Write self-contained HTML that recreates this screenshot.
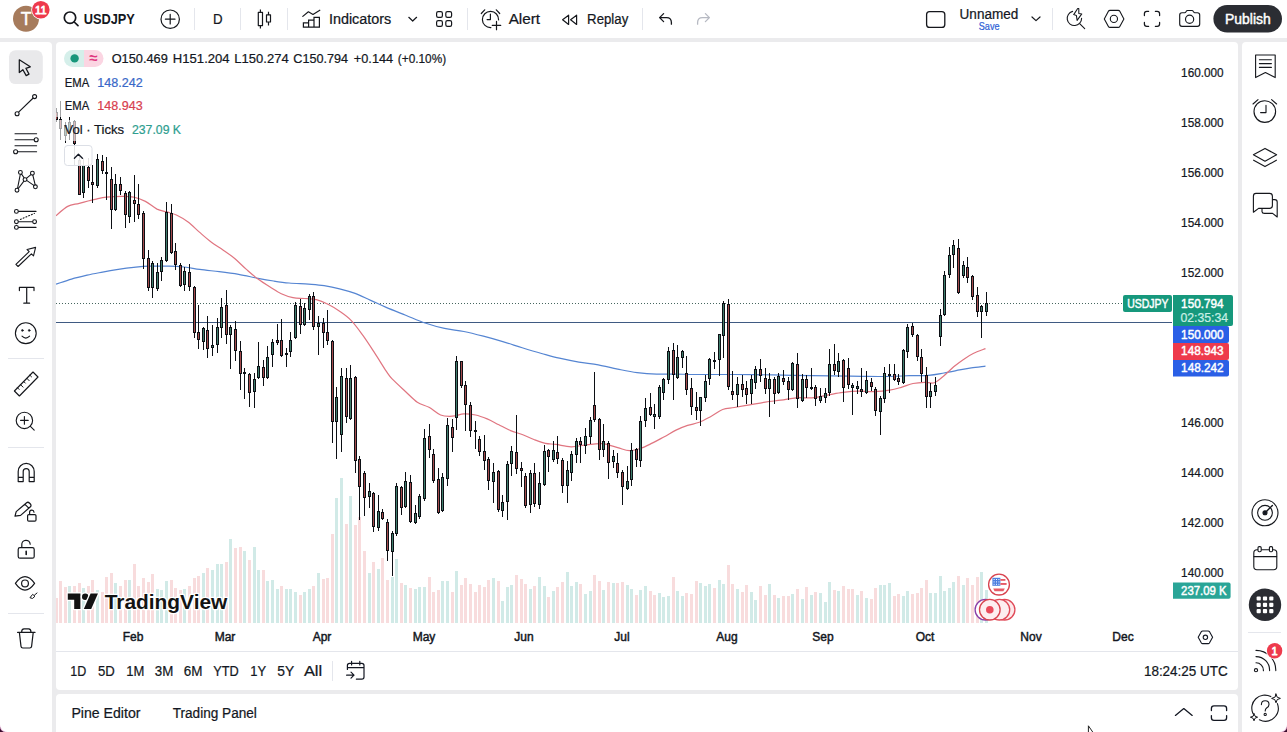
<!DOCTYPE html>
<html lang="en"><head><meta charset="utf-8"><title>USDJPY 150.794 — TradingView</title>
<style>
html,body{margin:0;padding:0}
body{width:1287px;height:732px;overflow:hidden;position:relative;background:#ebebed;font-family:"Liberation Sans",Arial,sans-serif;color:#131722}
.p{position:absolute;background:#fff}
#top{left:0;top:0;width:1287px;height:38px}
#left{left:0;top:42px;width:52px;height:690px;border-top-right-radius:4px}
#chart{left:56px;top:42px;width:1182px;height:648px;border-radius:4px}
#bottom{left:56px;top:694px;width:1182px;height:38px;border-radius:4px 4px 0 0}
#right{left:1242px;top:42px;width:45px;height:690px;border-top-left-radius:4px}
svg{position:absolute;left:0;top:0;font-family:"Liberation Sans",Arial,sans-serif}
text{white-space:pre}
</style></head><body>
<div class="p" id="top"></div>
<div class="p" id="left"></div>
<div class="p" id="chart"></div>
<div class="p" id="bottom"></div>
<div class="p" id="right"></div>
<svg width="1287" height="732" viewBox="0 0 1287 732">
<defs><clipPath id="cp"><rect x="56" y="42" width="1116" height="581"/></clipPath></defs>
<g id="plot" clip-path="url(#cp)">
<path shape-rendering="crispEdges" d="M54.5 622.5V597.7h3V622.5zM59.1 622.5V581.3h3V622.5zM63.7 622.5V586.8h3V622.5zM72.92 622.5V585.6h3V622.5zM77.52 622.5V583.2h3V622.5zM86.73 622.5V586h3V622.5zM91.34 622.5V579.6h3V622.5zM100.55 622.5V591.6h3V622.5zM105.15 622.5V577.2h3V622.5zM109.75 622.5V573.1h3V622.5zM118.97 622.5V585.6h3V622.5zM123.57 622.5V580.3h3V622.5zM132.78 622.5V564.4h3V622.5zM137.39 622.5V585.6h3V622.5zM141.99 622.5V578.4h3V622.5zM146.59 622.5V582h3V622.5zM151.2 622.5V574h3V622.5zM169.62 622.5V579.6h3V622.5zM174.23 622.5V587.5h3V622.5zM178.83 622.5V590h3V622.5zM188.04 622.5V586h3V622.5zM192.65 622.5V578.4h3V622.5zM197.25 622.5V576h3V622.5zM206.46 622.5V568.3h3V622.5zM224.88 622.5V561.5h3V622.5zM234.09 622.5V548.3h3V622.5zM238.7 622.5V547h3V622.5zM247.91 622.5V560.3h3V622.5zM261.72 622.5V570h3V622.5zM280.14 622.5V586h3V622.5zM298.56 622.5V595.3h3V622.5zM312.38 622.5V586h3V622.5zM321.59 622.5V578.9h3V622.5zM326.19 622.5V578h3V622.5zM330.8 622.5V533.8h3V622.5zM344.61 622.5V524.2h3V622.5zM353.82 622.5V525h3V622.5zM358.43 622.5V517h3V622.5zM363.03 622.5V551h3V622.5zM372.24 622.5V562.2h3V622.5zM381.45 622.5V558.4h3V622.5zM386.06 622.5V580h3V622.5zM399.87 622.5V583.3h3V622.5zM409.08 622.5V588.3h3V622.5zM427.5 622.5V577h3V622.5zM432.11 622.5V591.5h3V622.5zM436.71 622.5V590h3V622.5zM450.53 622.5V592h3V622.5zM459.74 622.5V585h3V622.5zM464.34 622.5V578.3h3V622.5zM468.95 622.5V584h3V622.5zM473.55 622.5V591.5h3V622.5zM478.16 622.5V585h3V622.5zM482.76 622.5V587h3V622.5zM487.37 622.5V580h3V622.5zM496.58 622.5V580.8h3V622.5zM515.0 622.5V575h3V622.5zM519.6 622.5V579h3V622.5zM524.21 622.5V584h3V622.5zM533.42 622.5V585.8h3V622.5zM547.23 622.5V597h3V622.5zM556.44 622.5V587h3V622.5zM561.05 622.5V582h3V622.5zM579.47 622.5V584h3V622.5zM593.28 622.5V575h3V622.5zM597.89 622.5V580.8h3V622.5zM607.1 622.5V582h3V622.5zM616.31 622.5V583.3h3V622.5zM620.91 622.5V581.6h3V622.5zM634.73 622.5V595h3V622.5zM648.54 622.5V590.8h3V622.5zM653.15 622.5V595h3V622.5zM671.57 622.5V576.7h3V622.5zM685.38 622.5V592.6h3V622.5zM689.99 622.5V593.7h3V622.5zM694.59 622.5V580.6h3V622.5zM713.01 622.5V587.6h3V622.5zM726.83 622.5V564.6h3V622.5zM731.43 622.5V583.9h3V622.5zM740.64 622.5V591.7h3V622.5zM745.25 622.5V584.8h3V622.5zM759.06 622.5V585.6h3V622.5zM763.67 622.5V594.5h3V622.5zM772.88 622.5V595.1h3V622.5zM782.09 622.5V596h3V622.5zM786.69 622.5V596h3V622.5zM795.9 622.5V589h3V622.5zM805.11 622.5V586.7h3V622.5zM814.32 622.5V591.7h3V622.5zM832.74 622.5V589.8h3V622.5zM841.95 622.5V585.6h3V622.5zM846.56 622.5V589h3V622.5zM851.16 622.5V589h3V622.5zM860.37 622.5V591.2h3V622.5zM869.58 622.5V598.7h3V622.5zM874.19 622.5V587.6h3V622.5zM892.61 622.5V596h3V622.5zM897.21 622.5V593.7h3V622.5zM911.03 622.5V594h3V622.5zM915.63 622.5V592.6h3V622.5zM920.24 622.5V587.6h3V622.5zM924.84 622.5V579.7h3V622.5zM957.08 622.5V576.4h3V622.5zM966.29 622.5V577.8h3V622.5zM970.89 622.5V584.8h3V622.5zM975.5 622.5V576.9h3V622.5z" fill="#f8dcdd"/>
<path shape-rendering="crispEdges" d="M68.31 622.5V585.6h3V622.5zM82.12 622.5V588h3V622.5zM95.94 622.5V590h3V622.5zM114.36 622.5V583.2h3V622.5zM128.18 622.5V580.3h3V622.5zM155.81 622.5V589.2h3V622.5zM160.41 622.5V590h3V622.5zM165.02 622.5V581.3h3V622.5zM183.44 622.5V589h3V622.5zM201.86 622.5V573h3V622.5zM211.06 622.5V570h3V622.5zM215.67 622.5V564.4h3V622.5zM220.28 622.5V564.4h3V622.5zM229.49 622.5V538.6h3V622.5zM243.3 622.5V551.4h3V622.5zM252.51 622.5V547h3V622.5zM257.12 622.5V570h3V622.5zM266.33 622.5V581.3h3V622.5zM270.93 622.5V580.3h3V622.5zM275.54 622.5V588.5h3V622.5zM284.75 622.5V589h3V622.5zM289.35 622.5V589h3V622.5zM293.96 622.5V592.4h3V622.5zM303.17 622.5V592.4h3V622.5zM307.77 622.5V589h3V622.5zM316.98 622.5V573h3V622.5zM335.4 622.5V497.7h3V622.5zM340.01 622.5V477.7h3V622.5zM349.22 622.5V496h3V622.5zM367.64 622.5V573.3h3V622.5zM376.85 622.5V569.1h3V622.5zM390.66 622.5V576.6h3V622.5zM395.27 622.5V559.2h3V622.5zM404.48 622.5V585h3V622.5zM413.69 622.5V589h3V622.5zM418.29 622.5V587h3V622.5zM422.9 622.5V587h3V622.5zM441.32 622.5V580.8h3V622.5zM445.92 622.5V580.8h3V622.5zM455.13 622.5V571.4h3V622.5zM491.97 622.5V578.3h3V622.5zM501.18 622.5V600.7h3V622.5zM505.79 622.5V587h3V622.5zM510.39 622.5V585h3V622.5zM528.81 622.5V589h3V622.5zM538.02 622.5V577h3V622.5zM542.62 622.5V586.3h3V622.5zM551.84 622.5V590.8h3V622.5zM565.65 622.5V572h3V622.5zM570.25 622.5V585.8h3V622.5zM574.86 622.5V582h3V622.5zM584.07 622.5V594h3V622.5zM588.68 622.5V590.8h3V622.5zM602.49 622.5V590h3V622.5zM611.7 622.5V583.3h3V622.5zM625.52 622.5V585h3V622.5zM630.12 622.5V589h3V622.5zM639.33 622.5V590h3V622.5zM643.94 622.5V585.8h3V622.5zM657.75 622.5V593.2h3V622.5zM662.36 622.5V597h3V622.5zM666.96 622.5V595.7h3V622.5zM676.17 622.5V590.9h3V622.5zM680.78 622.5V596h3V622.5zM699.2 622.5V582.5h3V622.5zM703.8 622.5V586.2h3V622.5zM708.41 622.5V583.9h3V622.5zM717.62 622.5V579.7h3V622.5zM722.22 622.5V583.9h3V622.5zM736.04 622.5V589h3V622.5zM749.85 622.5V591.7h3V622.5zM754.46 622.5V599.6h3V622.5zM768.27 622.5V583.9h3V622.5zM777.48 622.5V597.9h3V622.5zM791.3 622.5V594h3V622.5zM800.51 622.5V598.7h3V622.5zM809.72 622.5V594.5h3V622.5zM818.93 622.5V593.1h3V622.5zM823.53 622.5V602.1h3V622.5zM828.14 622.5V582h3V622.5zM837.35 622.5V591.2h3V622.5zM855.77 622.5V594.5h3V622.5zM864.98 622.5V597.9h3V622.5zM878.79 622.5V584.8h3V622.5zM883.4 622.5V584.8h3V622.5zM888.0 622.5V582.8h3V622.5zM901.82 622.5V596h3V622.5zM906.42 622.5V590.9h3V622.5zM929.45 622.5V592.6h3V622.5zM934.05 622.5V592.6h3V622.5zM938.66 622.5V575.8h3V622.5zM943.26 622.5V590.9h3V622.5zM947.87 622.5V587.6h3V622.5zM952.47 622.5V582h3V622.5zM961.68 622.5V584.8h3V622.5zM980.1 622.5V571.6h3V622.5zM984.71 622.5V590.3h3V622.5z" fill="#d1eae7"/>
<path shape-rendering="crispEdges" d="M56 322.5H1172" stroke="#3f5a82" stroke-width="1"/>
<path shape-rendering="crispEdges" d="M56 303.5H1123" stroke="#46665f" stroke-width="1" stroke-dasharray="1 2"/>
<path d="M56 284.1C58.6 283.3 66.3 280.6 71.5 279.1C76.7 277.6 81.9 276.4 87.1 275.2C92.3 274.0 97.4 273.1 102.6 272.1C107.8 271.1 113.0 270.2 118.2 269.4C123.4 268.6 128.5 267.9 133.7 267.4C138.9 266.9 143.4 266.4 149.2 266.2C155.0 266.0 162.9 266.1 168.7 266.2C174.5 266.3 179.0 266.5 184.2 267C189.4 267.5 193.9 268.6 199.7 269.4C205.5 270.2 212.7 270.9 219.2 271.7C225.7 272.5 232.1 273.3 238.6 274.4C245.1 275.5 252.2 277.2 258 278.3C263.8 279.4 268.4 280.2 273.6 281C278.8 281.8 283.3 282.5 289.1 283C294.9 283.5 302.7 283.7 308.5 284.1C314.3 284.6 318.9 284.9 324.1 285.7C329.3 286.5 334.4 287.5 339.6 288.8C344.8 290.1 349.9 291.5 355.1 293.4C360.3 295.3 365.5 298.1 370.7 300.4C375.9 302.7 380.4 304.9 386.2 307.4C392.0 309.9 399.2 312.6 405.7 315.2C412.2 317.8 418.6 320.8 425.1 323C431.6 325.2 438.0 327.0 444.5 328.4C451.0 329.8 457.4 330.2 463.9 331.5C470.4 332.8 476.9 334.5 483.4 336.2C489.9 337.9 496.3 339.7 502.8 341.6C509.3 343.5 515.7 345.8 522.2 347.8C528.7 349.8 535.4 351.8 541.6 353.5C547.8 355.2 553.2 356.8 559.4 358.2C565.6 359.6 572.4 361.0 578.9 362.1C585.4 363.2 591.8 363.6 598.3 364.8C604.8 366.0 611.2 367.8 617.7 369.1C624.2 370.4 630.6 371.8 637.1 372.6C643.6 373.4 650.1 373.9 656.6 374.1C663.1 374.4 669.5 374.0 676 374.1C682.5 374.2 685.7 374.4 695.4 374.5C705.1 374.6 721.3 374.4 734.3 374.5C747.2 374.6 760.2 374.7 773.1 374.9C786.0 375.1 799.0 375.5 811.9 375.7C824.8 375.9 837.8 376.0 850.8 376.1C863.8 376.2 880.0 376.6 889.7 376.5C899.4 376.4 902.6 375.9 909.1 375.7C915.6 375.5 922.7 375.8 928.5 375.3C934.3 374.9 938.8 373.9 944 373C949.2 372.1 955.1 370.8 959.6 369.9C964.1 369.0 967.0 368.5 971.3 367.9C975.6 367.3 983.1 366.5 985.5 366.2" fill="none" stroke="#5585d2" stroke-width="1.2" stroke-linejoin="round"/>
<path d="M56 215.7C58.0 214.1 63.8 208.5 67.7 206.4C71.6 204.3 74.8 204.5 79.3 203.3C83.8 202.1 90.4 200.4 94.9 199.4C99.4 198.4 102.0 197.6 106.5 197.1C111.0 196.6 117.5 196.3 122 196.3C126.5 196.3 129.8 196.2 133.7 197.1C137.6 197.9 141.5 199.4 145.4 201.4C149.3 203.4 153.4 207.3 157 209.1C160.6 210.8 163.5 210.9 166.7 211.9C169.9 212.9 172.8 213.3 176.4 215C180.0 216.7 184.2 219.1 188.1 222C192.0 224.9 195.8 229.0 199.7 232.4C203.6 235.8 207.5 239.3 211.4 242.2C215.3 245.1 219.1 247.2 223 249.9C226.9 252.6 230.8 255.2 234.7 258.5C238.6 261.8 242.5 266.0 246.4 269.4C250.3 272.8 254.1 276.2 258 279.1C261.9 282.0 265.8 284.4 269.7 286.8C273.6 289.2 277.4 292.0 281.3 293.8C285.2 295.6 289.1 296.9 293 297.7C296.9 298.5 300.7 298.2 304.6 298.5C308.5 298.8 312.4 298.7 316.3 299.7C320.2 300.7 324.1 302.4 328 304.3C331.9 306.2 335.7 308.6 339.6 311.3C343.5 314.0 347.4 316.6 351.3 320.6C355.2 324.6 359.0 330.0 362.9 335.4C366.8 340.8 370.7 346.9 374.6 352.9C378.5 358.8 383.3 366.8 386.2 371.1C389.1 375.4 388.9 375.5 392.1 378.9C395.4 382.3 401.5 387.8 405.7 391.7C409.9 395.6 413.4 399.6 417.3 402.2C421.2 404.8 425.1 405.2 429 407.3C432.9 409.4 436.7 413.5 440.6 415C444.5 416.5 448.4 416.4 452.3 416.2C456.2 416.0 460.0 414.1 463.9 413.9C467.8 413.7 471.7 414.2 475.6 415C479.5 415.8 483.3 417.3 487.2 418.9C491.1 420.5 495.0 422.9 498.9 424.8C502.8 426.8 506.7 429.0 510.6 430.6C514.5 432.2 518.3 433.0 522.2 434.5C526.1 436.0 530.0 438.0 533.9 439.5C537.8 441.0 541.8 442.6 545.5 443.4C549.2 444.2 551.7 443.8 556 444.4C560.3 445.0 566.0 446.7 571.1 446.8C576.2 446.9 581.4 445.3 586.6 444.8C591.8 444.3 597.0 443.2 602.2 443.7C607.4 444.2 613.2 446.4 617.7 447.6C622.2 448.8 625.5 450.6 629.4 450.7C633.3 450.8 637.1 449.6 641 448.3C644.9 447.0 648.8 444.8 652.7 442.9C656.6 441.0 660.4 438.8 664.3 436.7C668.2 434.6 672.1 432.0 676 430.1C679.9 428.2 683.7 426.7 687.6 425.4C691.5 424.1 695.4 423.8 699.3 422.3C703.2 420.8 707.0 418.6 710.9 416.5C714.8 414.4 718.7 411.0 722.6 409.5C726.5 408.0 729.8 408.3 734.3 407.5C738.8 406.7 744.6 405.7 749.8 404.8C755.0 403.9 760.1 402.9 765.3 402.1C770.5 401.3 775.7 400.9 780.9 400.2C786.1 399.5 791.2 398.2 796.4 397.8C801.6 397.4 806.7 398.2 811.9 397.8C817.1 397.4 822.3 396.0 827.5 395.1C832.7 394.2 837.8 393.0 843 392.4C848.2 391.8 853.4 391.3 858.6 391.2C863.8 391.1 868.9 391.8 874.1 391.6C879.3 391.4 885.2 390.8 889.7 390.1C894.2 389.4 897.4 388.4 901.3 387.3C905.2 386.2 909.1 384.3 913 383.5C916.9 382.7 921.1 382.4 924.6 382.3C928.1 382.2 931.1 383.8 934.3 382.7C937.5 381.6 940.8 378.3 944 375.7C947.2 373.1 950.5 369.5 953.7 366.8C957.0 364.1 960.2 361.6 963.5 359.4C966.8 357.2 969.5 355.3 973.2 353.5C976.9 351.7 983.5 349.4 985.5 348.6" fill="none" stroke="#e07580" stroke-width="1.2" stroke-linejoin="round"/>
<path shape-rendering="crispEdges" d="M55.5 108h1V122h-1zM60.1 100.5h1V140h-1zM64.7 122h1V143h-1zM69.31 117h1V140h-1zM73.92 119.6h1V166h-1zM78.52 153.7h1V194.7h-1zM83.12 157.8h1V197.5h-1zM87.73 158.4h1V187.9h-1zM92.34 164.7h1V203h-1zM96.94 153.7h1V187.9h-1zM101.55 154.6h1V174.2h-1zM106.15 157.3h1V200.2h-1zM110.75 166.6h1V228.9h-1zM115.36 173.7h1V211.1h-1zM119.97 177h1V194.7h-1zM124.57 191.2h1V227.5h-1zM129.18 191.2h1V223.4h-1zM133.78 174.8h1V222h-1zM138.39 183.8h1V218.5h-1zM142.99 211.1h1V268.5h-1zM147.59 250h1V291h-1zM152.2 260.7h1V298.4h-1zM156.81 262.9h1V290.6h-1zM161.41 256.6h1V281.1h-1zM166.02 202h1V261.7h-1zM170.62 204h1V254.4h-1zM175.23 243.4h1V270h-1zM179.83 262.9h1V287.4h-1zM184.44 267h1V291.2h-1zM189.04 263.9h1V290.6h-1zM193.65 285.9h1V337.7h-1zM198.25 304.7h1V348.7h-1zM202.86 326.7h1V350.3h-1zM207.46 315.7h1V358.1h-1zM212.06 325.1h1V355.9h-1zM216.67 318.2h1V353.4h-1zM221.28 297.5h1V337.7h-1zM225.88 289.9h1V344h-1zM230.49 324.5h1V369.1h-1zM235.09 321.4h1V361.3h-1zM239.7 340.8h1V389.6h-1zM244.3 367.6h1V399h-1zM248.91 372.9h1V406.8h-1zM253.51 373h1V408.2h-1zM258.12 342.2h1V379.3h-1zM262.72 360.4h1V386.2h-1zM267.33 346.3h1V378.7h-1zM271.93 339h1V366.7h-1zM276.54 324.3h1V344.7h-1zM281.14 318.9h1V356.7h-1zM285.75 347.9h1V367.3h-1zM290.35 331.5h1V357.3h-1zM294.96 302.3h1V339.1h-1zM299.56 299.1h1V333.7h-1zM304.17 303.2h1V325.9h-1zM308.77 293.8h1V320.2h-1zM313.38 291.9h1V329.6h-1zM317.98 316.4h1V354.8h-1zM322.59 318h1V347.9h-1zM327.19 310.1h1V345.3h-1zM331.8 340h1V442.8h-1zM336.4 387.1h1V458.5h-1zM341.01 368.3h1V451.6h-1zM345.61 368.3h1V423.3h-1zM350.22 365.1h1V420.1h-1zM354.82 375.7h1V472.9h-1zM359.43 455.9h1V520.3h-1zM364.03 470.6h1V515.6h-1zM368.64 483.2h1V507.7h-1zM373.24 492h1V532.2h-1zM377.85 495.1h1V531.3h-1zM382.45 509.3h1V519.6h-1zM387.06 518.7h1V561.1h-1zM391.66 531.3h1V576.2h-1zM396.27 483.2h1V536h-1zM400.87 486.3h1V514.6h-1zM405.48 471.6h1V508.3h-1zM410.08 474.7h1V522.8h-1zM414.69 504.6h1V524h-1zM419.29 493.6h1V518.7h-1zM423.9 429.1h1V500.8h-1zM428.5 424.4h1V458.1h-1zM433.11 448.6h1V482.6h-1zM437.71 467.5h1V514h-1zM442.32 473.1h1V511.5h-1zM446.92 418.1h1V485.7h-1zM451.53 418.5h1V451.7h-1zM456.13 356.1h1V429.6h-1zM460.74 360.8h1V388h-1zM465.34 381h1V430.8h-1zM469.95 402.3h1V436.5h-1zM474.55 420.5h1V449h-1zM479.16 436h1V456.3h-1zM483.76 434.7h1V469.8h-1zM488.37 456.8h1V490h-1zM492.97 463.3h1V503h-1zM497.58 469.8h1V511.8h-1zM502.18 495.2h1V517h-1zM506.79 460.7h1V519.6h-1zM511.39 445.9h1V475.5h-1zM516.0 415.3h1V473.7h-1zM520.6 461.5h1V486.6h-1zM525.21 472.9h1V508.2h-1zM529.81 469.8h1V512.6h-1zM534.42 463.3h1V507.4h-1zM539.02 471.8h1V508.7h-1zM543.62 445.1h1V485.9h-1zM548.23 448.5h1V472.4h-1zM552.84 440.6h1V462.4h-1zM557.44 435.8h1V463.6h-1zM562.05 458h1V493h-1zM566.65 461h1V503.2h-1zM571.25 451.4h1V480.7h-1zM575.86 438.3h1V462.8h-1zM580.47 436.5h1V463.2h-1zM585.07 428.2h1V454h-1zM589.68 416.9h1V444.2h-1zM594.28 372h1V421.7h-1zM598.89 417.9h1V459.5h-1zM603.49 423.9h1V457.3h-1zM608.1 440.9h1V478.5h-1zM612.7 449.7h1V467.6h-1zM617.31 452.9h1V477.6h-1zM621.91 470.4h1V505.4h-1zM626.52 466.1h1V490.1h-1zM631.12 442.7h1V485.7h-1zM635.73 447.9h1V467.1h-1zM640.33 416.4h1V466.7h-1zM644.94 398.3h1V426.7h-1zM649.54 392.8h1V415.8h-1zM654.15 403.5h1V428.5h-1zM658.75 384.5h1V418.5h-1zM663.36 377.9h1V400.4h-1zM667.96 347.3h1V384h-1zM672.57 342.9h1V399.8h-1zM677.17 345.1h1V378.6h-1zM681.78 350.1h1V367.6h-1zM686.38 356h1V395h-1zM690.99 377.5h1V414.6h-1zM695.59 391.7h1V420.1h-1zM700.2 396.7h1V425.6h-1zM704.8 374.8h1V401.5h-1zM709.41 358.2h1V385.1h-1zM714.01 352.3h1V369.2h-1zM718.62 333.7h1V375.7h-1zM723.22 300.5h1V357.8h-1zM727.83 298.7h1V390.2h-1zM732.43 370.5h1V400.4h-1zM737.04 377h1V407h-1zM741.64 375.3h1V397.1h-1zM746.25 381.4h1V404.1h-1zM750.85 374.8h1V404.3h-1zM755.46 366h1V388.5h-1zM760.06 358.9h1V382.3h-1zM764.67 368.2h1V394.3h-1zM769.27 373.3h1V416.5h-1zM773.88 377.2h1V403.7h-1zM778.48 372.9h1V394.3h-1zM783.09 369.9h1V385.2h-1zM787.69 377.2h1V400.3h-1zM792.3 361.8h1V390.9h-1zM796.9 353.3h1V408h-1zM801.51 374.3h1V401.6h-1zM806.11 374.7h1V397.7h-1zM810.72 368.2h1V389.7h-1zM815.32 385.2h1V405.7h-1zM819.93 387.5h1V402.8h-1zM824.53 388.3h1V402.8h-1zM829.14 349h1V395.5h-1zM833.74 343.9h1V375h-1zM838.35 352.8h1V377.2h-1zM842.95 358.9h1V401.6h-1zM847.56 357.9h1V388.7h-1zM852.16 382.8h1V414.9h-1zM856.77 381.2h1V394.4h-1zM861.37 368h1V397.3h-1zM865.98 370.9h1V394.4h-1zM870.58 378.2h1V390.8h-1zM875.19 387h1V415.5h-1zM879.79 395.8h1V434.9h-1zM884.4 366.5h1V402.6h-1zM889.0 364.4h1V392.9h-1zM893.61 363.5h1V381.2h-1zM898.21 373.8h1V385h-1zM902.82 348.9h1V384.1h-1zM907.42 323.9h1V357.7h-1zM912.03 322.5h1V337.1h-1zM916.63 334.2h1V360.6h-1zM921.24 348.9h1V382h-1zM925.84 366.5h1V407.6h-1zM930.45 382.6h1V407.6h-1zM935.05 376.8h1V395.8h-1zM939.66 309.2h1V345.9h-1zM944.26 271.1h1V315.7h-1zM948.87 247h1V278.4h-1zM953.47 240.3h1V268.2h-1zM958.08 239.4h1V294h-1zM962.68 260.8h1V278.4h-1zM967.29 257h1V282.8h-1zM971.89 274.6h1V299.9h-1zM976.5 287.2h1V316.6h-1zM981.1 304.8h1V337.7h-1zM985.71 291.6h1V315.7h-1z" fill="#0c0f14"/>
<path shape-rendering="crispEdges" d="M54.5 112h3V120h-3zM59.1 119h3V129h-3zM63.7 125h3V136h-3zM68.31 122h3V133h-3zM72.92 121h3V144h-3zM77.52 160h3V194.7h-3zM82.12 164.7h3V193.4h-3zM86.73 166.6h3V181h-3zM91.34 181.9h3V184.6h-3zM95.94 159.2h3V185.7h-3zM100.55 160.6h3V171h-3zM105.15 171.5h3V173.5h-3zM109.75 179.2h3V209.8h-3zM114.36 183.8h3V210.3h-3zM118.97 183.8h3V191.2h-3zM123.57 192.8h3V215.2h-3zM128.18 192h3V217.4h-3zM132.78 200.2h3V203.7h-3zM137.39 203.7h3V214.7h-3zM141.99 212.5h3V259h-3zM146.59 258h3V288h-3zM151.2 262.9h3V288h-3zM155.81 272.3h3V289h-3zM160.41 259.8h3V272.3h-3zM165.02 212h3V260.7h-3zM169.62 212.6h3V252.9h-3zM174.23 251.3h3V265.4h-3zM178.83 265.4h3V285.9h-3zM183.44 271h3V285h-3zM188.04 272.3h3V286.8h-3zM192.65 287.4h3V333h-3zM197.25 332h3V340.2h-3zM201.86 328.3h3V341.5h-3zM206.46 329.8h3V348.7h-3zM211.06 344.6h3V347.8h-3zM215.67 326.7h3V344.6h-3zM220.28 306.9h3V328.3h-3zM224.88 304.7h3V335.2h-3zM229.49 326.7h3V334.6h-3zM234.09 328.9h3V350.9h-3zM238.7 350.9h3V373.8h-3zM243.3 371.6h3V373.6h-3zM247.91 373.8h3V392.7h-3zM252.51 378.7h3V391.9h-3zM257.12 366.1h3V377.7h-3zM261.72 367.3h3V377.7h-3zM266.33 357.3h3V377.7h-3zM270.93 341.6h3V354.8h-3zM275.54 340h3V343.1h-3zM280.14 340h3V355.7h-3zM284.75 352.6h3V354.8h-3zM289.35 340h3V351.6h-3zM293.96 305.4h3V338.4h-3zM298.56 306.4h3V325.2h-3zM303.17 307.6h3V325.2h-3zM307.77 296h3V309.5h-3zM312.38 296h3V326.5h-3zM316.98 322.7h3V327.4h-3zM321.59 323.3h3V332.8h-3zM326.19 332.1h3V340.9h-3zM330.8 340.9h3V421.7h-3zM335.4 396.6h3V421.7h-3zM340.01 375.5h3V435.2h-3zM344.61 377.7h3V417h-3zM349.22 377.7h3V418.6h-3zM353.82 377h3V461.4h-3zM358.43 459h3V487.3h-3zM363.03 473.1h3V497.6h-3zM367.64 491.4h3V496.7h-3zM372.24 492.6h3V526.6h-3zM376.85 510.8h3V528.1h-3zM381.45 512.4h3V518.7h-3zM386.06 521.8h3V551.1h-3zM390.66 532.8h3V552.3h-3zM395.27 486.3h3V534.4h-3zM399.87 487.3h3V507.7h-3zM404.48 481h3V507.1h-3zM409.08 481.9h3V521.8h-3zM413.69 513.4h3V522.8h-3zM418.29 495.8h3V516.5h-3zM422.9 437.9h3V498.9h-3zM427.5 436.1h3V449.6h-3zM432.11 453.7h3V481h-3zM436.71 478.8h3V513.4h-3zM441.32 476.9h3V510.8h-3zM445.92 425.4h3V479.4h-3zM450.53 426.8h3V438.3h-3zM455.13 360.8h3V418h-3zM459.74 361.3h3V386.2h-3zM464.34 385.4h3V404.9h-3zM468.95 404.9h3V430.8h-3zM473.55 430.3h3V432.3h-3zM478.16 438.6h3V451.6h-3zM482.76 451.1h3V460.7h-3zM487.37 458.9h3V481.4h-3zM491.97 471.8h3V482.2h-3zM496.58 471.1h3V510h-3zM501.18 502.2h3V510.8h-3zM505.79 464.1h3V502.2h-3zM510.39 451.1h3V464.1h-3zM515.0 452.1h3V468.5h-3zM519.6 467.7h3V471.1h-3zM524.21 475.5h3V505.6h-3zM528.81 472.9h3V504.8h-3zM533.42 472.9h3V504h-3zM538.02 482.7h3V504.8h-3zM542.62 451.1h3V484.8h-3zM547.23 450.3h3V456.8h-3zM551.84 450.2h3V459.5h-3zM556.44 451.5h3V458.8h-3zM561.05 459.5h3V485.7h-3zM565.65 470.4h3V485.7h-3zM570.25 453.6h3V472.6h-3zM574.86 440.5h3V454.5h-3zM579.47 440.5h3V444.8h-3zM584.07 436.1h3V445.7h-3zM588.68 420.1h3V436.5h-3zM593.28 404.8h3V419.5h-3zM597.89 418.6h3V450.1h-3zM602.49 441.3h3V449.7h-3zM607.1 443.1h3V463.2h-3zM611.7 455.8h3V462.3h-3zM616.31 463.2h3V472.6h-3zM620.91 472h3V487.3h-3zM625.52 480.7h3V488.6h-3zM630.12 450.1h3V480.3h-3zM634.73 449.2h3V460.2h-3zM639.33 421.2h3V461h-3zM643.94 408.1h3V421.2h-3zM648.54 407h3V415.1h-3zM653.15 414.2h3V416.6h-3zM657.75 387.3h3V417h-3zM662.36 379.2h3V392.8h-3zM666.96 350.8h3V380.1h-3zM671.57 350.1h3V375.3h-3zM676.17 357.4h3V377.5h-3zM680.78 351.2h3V358.2h-3zM685.38 373.1h3V389.5h-3zM689.99 388.4h3V407h-3zM694.59 407h3V410.7h-3zM699.2 397.1h3V411.4h-3zM703.8 381.4h3V398.2h-3zM708.41 358.9h3V378.6h-3zM713.01 359.5h3V361.5h-3zM717.62 334.2h3V360.4h-3zM722.22 303.1h3V335.5h-3zM726.83 304.2h3V387.3h-3zM731.43 391h3V395.4h-3zM736.04 384h3V395h-3zM740.64 383.6h3V389.5h-3zM745.25 388.4h3V394.5h-3zM749.85 379h3V394.4h-3zM754.46 369.2h3V383.2h-3zM759.06 369.2h3V376.4h-3zM763.67 378.1h3V388.7h-3zM768.27 378.9h3V388.7h-3zM772.88 378.9h3V394.3h-3zM777.48 376h3V392.6h-3zM782.09 378.1h3V381.8h-3zM786.69 381.1h3V390.4h-3zM791.3 363h3V389.7h-3zM795.9 364.1h3V399.4h-3zM800.51 378.9h3V400.6h-3zM805.11 379.4h3V387.5h-3zM809.72 387h3V389h-3zM814.32 387h3V399.4h-3zM818.93 396h3V400.6h-3zM823.53 393.1h3V397.7h-3zM828.14 364.1h3V392.6h-3zM832.74 364.1h3V370.9h-3zM837.35 361h3V371.6h-3zM841.95 360.1h3V387.5h-3zM846.56 368.2h3V384.6h-3zM851.16 384.8h3V387.6h-3zM855.77 386h3V388.6h-3zM860.37 388.5h3V392h-3zM864.98 380.3h3V392.9h-3zM869.58 382h3V387h-3zM874.19 389.1h3V411.4h-3zM878.79 397.9h3V412h-3zM883.4 373.2h3V398.8h-3zM888.0 373.8h3V375.8h-3zM892.61 373.8h3V379.7h-3zM897.21 377.6h3V381.7h-3zM901.82 349.8h3V383.2h-3zM906.42 326.9h3V351.8h-3zM911.03 326h3V334.8h-3zM915.63 335.1h3V356.8h-3zM920.24 356.8h3V374.4h-3zM924.84 375.3h3V396.7h-3zM929.45 390.8h3V397.3h-3zM934.05 385h3V392h-3zM938.66 314.5h3V337.1h-3zM943.26 274.9h3V315.1h-3zM947.87 254.9h3V274.6h-3zM952.47 244.7h3V254.9h-3zM957.08 248.2h3V293.1h-3zM961.68 265.2h3V275.5h-3zM966.29 267.3h3V277.5h-3zM970.89 276.4h3V296.9h-3zM975.5 295.2h3V311.6h-3zM980.1 306.3h3V312.2h-3zM984.71 302.6h3V312.2h-3z" fill="#0c0f14"/>
<path shape-rendering="crispEdges" d="M64.7 126h1V135h-1zM69.31 123h1V132h-1zM83.12 165.7h1V192.4h-1zM96.94 160.2h1V184.7h-1zM115.36 184.8h1V209.3h-1zM129.18 193h1V216.4h-1zM152.2 263.9h1V287h-1zM156.81 273.3h1V288h-1zM161.41 260.8h1V271.3h-1zM166.02 213h1V259.7h-1zM184.44 272h1V284h-1zM202.86 329.3h1V340.5h-1zM212.06 345.6h1V346.8h-1zM216.67 327.7h1V343.6h-1zM221.28 307.9h1V327.3h-1zM230.49 327.7h1V333.6h-1zM253.51 379.7h1V390.9h-1zM258.12 367.1h1V376.7h-1zM267.33 358.3h1V376.7h-1zM271.93 342.6h1V353.8h-1zM290.35 341h1V350.6h-1zM294.96 306.4h1V337.4h-1zM304.17 308.6h1V324.2h-1zM308.77 297h1V308.5h-1zM317.98 323.7h1V326.4h-1zM336.4 397.6h1V420.7h-1zM341.01 376.5h1V434.2h-1zM350.22 378.7h1V417.6h-1zM368.64 492.4h1V495.7h-1zM377.85 511.8h1V527.1h-1zM391.66 533.8h1V551.3h-1zM396.27 487.3h1V533.4h-1zM405.48 482h1V506.1h-1zM414.69 514.4h1V521.8h-1zM419.29 496.8h1V515.5h-1zM423.9 438.9h1V497.9h-1zM442.32 477.9h1V509.8h-1zM446.92 426.4h1V478.4h-1zM456.13 361.8h1V417h-1zM492.97 472.8h1V481.2h-1zM502.18 503.2h1V509.8h-1zM506.79 465.1h1V501.2h-1zM511.39 452.1h1V463.1h-1zM529.81 473.9h1V503.8h-1zM539.02 483.7h1V503.8h-1zM543.62 452.1h1V483.8h-1zM552.84 451.2h1V458.5h-1zM566.65 471.4h1V484.7h-1zM571.25 454.6h1V471.6h-1zM575.86 441.5h1V453.5h-1zM585.07 437.1h1V444.7h-1zM589.68 421.1h1V435.5h-1zM603.49 442.3h1V448.7h-1zM612.7 456.8h1V461.3h-1zM626.52 481.7h1V487.6h-1zM631.12 451.1h1V479.3h-1zM640.33 422.2h1V460h-1zM644.94 409.1h1V420.2h-1zM654.15 415.2h1V415.6h-1zM658.75 388.3h1V416h-1zM663.36 380.2h1V391.8h-1zM667.96 351.8h1V379.1h-1zM677.17 358.4h1V376.5h-1zM681.78 352.2h1V357.2h-1zM700.2 398.1h1V410.4h-1zM704.8 382.4h1V397.2h-1zM709.41 359.9h1V377.6h-1zM718.62 335.2h1V359.4h-1zM723.22 304.1h1V334.5h-1zM737.04 385h1V394h-1zM750.85 380h1V393.4h-1zM755.46 370.2h1V382.2h-1zM769.27 379.9h1V387.7h-1zM778.48 377h1V391.6h-1zM792.3 364h1V388.7h-1zM801.51 379.9h1V399.6h-1zM819.93 397h1V399.6h-1zM824.53 394.1h1V396.7h-1zM829.14 365.1h1V391.6h-1zM838.35 362h1V370.6h-1zM852.16 385.8h1V386.6h-1zM856.77 387h1V387.6h-1zM865.98 381.3h1V391.9h-1zM879.79 398.9h1V411h-1zM884.4 374.2h1V397.8h-1zM902.82 350.8h1V382.2h-1zM907.42 327.9h1V350.8h-1zM930.45 391.8h1V396.3h-1zM935.05 386h1V391h-1zM939.66 315.5h1V336.1h-1zM944.26 275.9h1V314.1h-1zM948.87 255.9h1V273.6h-1zM953.47 245.7h1V253.9h-1zM962.68 266.2h1V274.5h-1zM981.1 307.3h1V311.2h-1zM985.71 303.6h1V311.2h-1z" fill="#3f7d6c"/>
<path shape-rendering="crispEdges" d="M55.5 113h1V119h-1zM60.1 120h1V128h-1zM73.92 122h1V143h-1zM78.52 161h1V193.7h-1zM87.73 167.6h1V180h-1zM92.34 182.9h1V183.6h-1zM101.55 161.6h1V170h-1zM110.75 180.2h1V208.8h-1zM119.97 184.8h1V190.2h-1zM124.57 193.8h1V214.2h-1zM133.78 201.2h1V202.7h-1zM138.39 204.7h1V213.7h-1zM142.99 213.5h1V258h-1zM147.59 259h1V287h-1zM170.62 213.6h1V251.9h-1zM175.23 252.3h1V264.4h-1zM179.83 266.4h1V284.9h-1zM189.04 273.3h1V285.8h-1zM193.65 288.4h1V332h-1zM198.25 333h1V339.2h-1zM207.46 330.8h1V347.7h-1zM225.88 305.7h1V334.2h-1zM235.09 329.9h1V349.9h-1zM239.7 351.9h1V372.8h-1zM248.91 374.8h1V391.7h-1zM262.72 368.3h1V376.7h-1zM276.54 341h1V342.1h-1zM281.14 341h1V354.7h-1zM299.56 307.4h1V324.2h-1zM313.38 297h1V325.5h-1zM322.59 324.3h1V331.8h-1zM327.19 333.1h1V339.9h-1zM331.8 341.9h1V420.7h-1zM345.61 378.7h1V416h-1zM354.82 378h1V460.4h-1zM359.43 460h1V486.3h-1zM364.03 474.1h1V496.6h-1zM373.24 493.6h1V525.6h-1zM382.45 513.4h1V517.7h-1zM387.06 522.8h1V550.1h-1zM400.87 488.3h1V506.7h-1zM410.08 482.9h1V520.8h-1zM428.5 437.1h1V448.6h-1zM433.11 454.7h1V480h-1zM437.71 479.8h1V512.4h-1zM451.53 427.8h1V437.3h-1zM460.74 362.3h1V385.2h-1zM465.34 386.4h1V403.9h-1zM469.95 405.9h1V429.8h-1zM479.16 439.6h1V450.6h-1zM483.76 452.1h1V459.7h-1zM488.37 459.9h1V480.4h-1zM497.58 472.1h1V509h-1zM516.0 453.1h1V467.5h-1zM520.6 468.7h1V470.1h-1zM525.21 476.5h1V504.6h-1zM534.42 473.9h1V503h-1zM548.23 451.3h1V455.8h-1zM557.44 452.5h1V457.8h-1zM562.05 460.5h1V484.7h-1zM580.47 441.5h1V443.8h-1zM594.28 405.8h1V418.5h-1zM598.89 419.6h1V449.1h-1zM608.1 444.1h1V462.2h-1zM617.31 464.2h1V471.6h-1zM621.91 473h1V486.3h-1zM635.73 450.2h1V459.2h-1zM649.54 408h1V414.1h-1zM672.57 351.1h1V374.3h-1zM686.38 374.1h1V388.5h-1zM690.99 389.4h1V406h-1zM695.59 408h1V409.7h-1zM727.83 305.2h1V386.3h-1zM732.43 392h1V394.4h-1zM741.64 384.6h1V388.5h-1zM746.25 389.4h1V393.5h-1zM760.06 370.2h1V375.4h-1zM764.67 379.1h1V387.7h-1zM773.88 379.9h1V393.3h-1zM783.09 379.1h1V380.8h-1zM787.69 382.1h1V389.4h-1zM796.9 365.1h1V398.4h-1zM806.11 380.4h1V386.5h-1zM815.32 388h1V398.4h-1zM833.74 365.1h1V369.9h-1zM842.95 361.1h1V386.5h-1zM847.56 369.2h1V383.6h-1zM861.37 389.5h1V391h-1zM870.58 383h1V386h-1zM875.19 390.1h1V410.4h-1zM893.61 374.8h1V378.7h-1zM898.21 378.6h1V380.7h-1zM912.03 327h1V333.8h-1zM916.63 336.1h1V355.8h-1zM921.24 357.8h1V373.4h-1zM925.84 376.3h1V395.7h-1zM958.08 249.2h1V292.1h-1zM967.29 268.3h1V276.5h-1zM971.89 277.4h1V295.9h-1zM976.5 296.2h1V310.6h-1z" fill="#a34a4c"/>
</g>
<g id="legendbg" fill="#fff" fill-opacity="0.62">
<rect x="56" y="72" width="92" height="21"/><rect x="56" y="96" width="92" height="21"/><rect x="56" y="120" width="130" height="21"/>
</g>
<!-- separators / borders -->
<g stroke="#e4e6ec" stroke-width="1" fill="none">
<path d="M194.5 8V30M240.5 8V30M287.5 8V30M467.5 8V30M642.5 8V30M1052.5 8V30"/>
<path d="M8 358.5H44M8 447.5H44M8 613.5H44"/>
<path d="M1248 632.5H1281"/>
<path d="M56 651.5H1238"/>
<path d="M332.5 661V681"/>
</g>

<!-- ===== top bar ===== -->
<g id="topicons" fill="none" stroke="#15171c" stroke-width="1.2" stroke-linecap="round" stroke-linejoin="round">
<!-- avatar -->
<circle cx="26" cy="18.7" r="13" fill="#a67b5c" stroke="none"/>
<circle cx="40.8" cy="9.8" r="9.6" fill="#fff" stroke="none"/>
<circle cx="40.8" cy="9.8" r="8.8" fill="#ee3a4c" stroke="none"/>
<!-- search -->
<circle cx="70" cy="17.7" r="5.7" stroke-width="1.7"/>
<path d="M74.2 22L78 25.7" stroke-width="1.7"/>
<!-- plus circle -->
<circle cx="170.2" cy="19.2" r="9.2" stroke-width="1.2"/>
<path d="M165.4 19.2H175M170.2 14.4V24" stroke-width="1.2"/>
<!-- candles icon -->
<path d="M260.4 9.6V12.4M260.4 25.6V28.6M258.3 12.4h4.2v13.2h-4.2zM268.5 11.8V14.8M268.5 22V25.4M266.5 14.8h4v7.2h-4z" stroke-width="1.2" stroke-linecap="butt"/>
<!-- indicators icon -->
<path d="M302.8 16.4L308.4 11.8L313 14.4L319.8 10.2" stroke-width="1.2"/>
<path d="M303.4 27.2V22.8H308.6V20.2H314V17.4H319.4V27.2ZM308.6 22.8V27.2M314 20.2V27.2" stroke-width="1.2" stroke-linejoin="miter"/>
<!-- chevron -->
<path d="M408.8 17.3L412.7 21L416.6 17.3" stroke-width="1.2"/>
<!-- grid 4 -->
<rect x="436.6" y="11.6" width="5.8" height="5.8" rx="1.6" stroke-width="1.2"/>
<rect x="445.8" y="11.6" width="5.8" height="5.8" rx="1.6" stroke-width="1.2"/>
<rect x="436.6" y="20.6" width="5.8" height="5.8" rx="1.6" stroke-width="1.2"/>
<rect x="445.8" y="20.6" width="5.8" height="5.8" rx="1.6" stroke-width="1.2"/>
<!-- alert -->
<path d="M498.6 19.9A8.1 8.1 0 1 0 490.9 27.6" stroke-width="1.2"/>
<path d="M490.4 14.2V19.6H487.1" stroke-width="1.2"/>
<path d="M481.3 13.5L484.7 9.8M496.3 9.8L499.7 13.5" stroke-width="1.2"/>
<path d="M492.3 25.4H500.7M496.5 21.4V29.7" stroke-width="1.2"/>
<!-- replay -->
<path d="M568.6 15.2V24.4L562.6 19.8ZM576.6 15.2V24.4L570.6 19.8Z" stroke-width="1.2"/>
<!-- undo -->
<path d="M663.6 13.6L659.6 17.6L663.6 21.6M659.8 17.6H666.6Q671.4 17.6 671.4 22.6V24.2" stroke-width="1.3"/>
<!-- redo -->
<path d="M705.4 13.6L709.4 17.6L705.4 21.6M709.2 17.6H702.4Q697.6 17.6 697.6 22.6V24.2" stroke="#b6b9c2" stroke-width="1.3"/>
<!-- layout rect -->
<rect x="926.6" y="11.6" width="18.2" height="15.8" rx="3" stroke-width="1.3"/>
<!-- chevron -->
<path d="M1032 17L1036 20.6L1040 17" stroke-width="1.2"/>
<!-- quick search -->
<path d="M1072.6 11.4A7.2 7.2 0 1 0 1081.6 18.3" stroke-width="1.1"/>
<path d="M1079.9 23.9L1084.7 28.6" stroke-width="1.1"/>
<path d="M1077.7 8.5H1078.8V13.5L1081.8 13.9L1077.1 20.4L1076.4 15.4L1073.7 14.6Z" stroke-width="1.05"/>
<!-- settings hex -->
<path d="M1104.3 18.9L1108.4 11.3Q1108.9 10.4 1110 10.4H1118.2Q1119.3 10.4 1119.8 11.3L1123.9 18.9L1119.8 26.5Q1119.3 27.4 1118.2 27.4H1110Q1108.9 27.4 1108.4 26.5Z" stroke-width="1.1"/>
<circle cx="1113.9" cy="18.9" r="3.6" stroke-width="1.1"/>
<!-- fullscreen -->
<path d="M1144.4 15.5V13.8Q1144.4 11.4 1146.8 11.4H1148.6M1155.4 11.4H1157.2Q1159.6 11.4 1159.6 13.8V15.5M1159.6 22.4V24Q1159.6 26.4 1157.2 26.4H1155.4M1148.6 26.4H1146.8Q1144.4 26.4 1144.4 24V22.4" stroke-width="1.25"/>
<!-- camera -->
<path d="M1182 12.7H1184.8Q1185.4 12.7 1185.8 12L1186.3 11.2Q1186.7 10.5 1187.5 10.5H1192Q1192.8 10.5 1193.2 11.2L1193.7 12Q1194.1 12.7 1194.7 12.7H1197.4Q1199.7 12.7 1199.7 15V24Q1199.7 26.3 1197.4 26.3H1182Q1179.7 26.3 1179.7 24V15Q1179.7 12.7 1182 12.7Z" stroke-width="1.15"/>
<circle cx="1189.6" cy="19.3" r="4.1" stroke-width="1.15"/>
<!-- publish -->
<rect x="1213.4" y="5" width="68.6" height="27.6" rx="13.8" fill="#2b2d33" stroke="none"/>
</g>

<!-- ===== left toolbar ===== -->
<g id="lefticons" fill="none" stroke="#15171c" stroke-width="1.12" stroke-linecap="round" stroke-linejoin="round">
<rect x="9" y="50.3" width="33.8" height="33.8" rx="6.5" fill="#e9e9eb" stroke="none"/>
<!-- cursor -->
<path d="M19.3 59.8V72.6L22.9 69.7L26.2 75.6L29 74.1L25.9 68.3L30.3 66.8Z" stroke-width="1.25"/>
<!-- trend line -->
<path d="M18.6 112.2L33.2 98" />
<circle cx="17.1" cy="113.7" r="2" fill="#fff"/><circle cx="34.6" cy="96.6" r="2" fill="#fff"/>
<!-- horizontal lines -->
<path d="M15 133.7H36.6M15 139.7H34.2M15 145.7H36.6M17.6 151.7H36.6"/>
<circle cx="36.2" cy="139.7" r="2" fill="#fff"/><circle cx="15.6" cy="151.7" r="2" fill="#fff"/>
<!-- pattern -->
<path d="M17.2 190L20.6 172.8L25.2 179.4L32.4 173.4L35.6 186.6L25.2 179.4Z" stroke-width="1.1"/>
<circle cx="20.4" cy="172.4" r="1.9" fill="#fff"/><circle cx="32.4" cy="173.2" r="1.9" fill="#fff"/><circle cx="25" cy="179.6" r="1.9" fill="#fff"/><circle cx="35.4" cy="186.8" r="1.9" fill="#fff"/><circle cx="17" cy="190.2" r="1.9" fill="#fff"/>
<!-- fib/forecast -->
<path d="M18.4 211.4H36M18.4 221.7H32.6M18.4 227.4H36"/>
<path d="M20.4 219.4L34.4 213.4" stroke-dasharray="1 2" stroke-width="1.1"/>
<circle cx="16.4" cy="211.4" r="1.9" fill="#fff"/><circle cx="16.4" cy="221.7" r="1.9" fill="#fff"/><circle cx="16.4" cy="227.4" r="1.9" fill="#fff"/><circle cx="34.6" cy="221.7" r="1.9" fill="#fff"/>
<!-- arrow -->
<path d="M15.9 264.3L29.2 251.6L27.1 249.5L35.6 247.4L33.5 255.9L31.4 253.8L18.1 266.5Z" stroke-width="1.1"/>
<!-- text T -->
<path d="M19.4 290.6V287.4H34V290.6M26.7 287.4V303M23.8 303.2H29.6" stroke-width="1.2"/>
<!-- smiley -->
<circle cx="25.8" cy="333.2" r="10.4"/>
<circle cx="22.4" cy="330.4" r="0.9" fill="#131722" stroke-width="0.6"/><circle cx="29.2" cy="330.4" r="0.9" fill="#131722" stroke-width="0.6"/>
<path d="M22 336.2Q25.8 340 29.6 336.2"/>
<!-- ruler -->
<path d="M14.4 391L33 372L38 377L19.4 396Z" stroke-width="1.15"/>
<path d="M17.5 387.8L19.1 389.4M20.6 384.7L23 387.1M23.7 381.5L25.3 383.1M26.8 378.3L29.2 380.7M29.9 375.2L31.5 376.8" stroke-width="1"/>
<!-- zoom -->
<circle cx="24.4" cy="420.4" r="8.2"/>
<path d="M20.6 420.4H28.2M24.4 416.6V424.2M30.4 426.4L34.2 430.2"/>
<!-- magnet -->
<path d="M18.2 481.6V471.4A8 8 0 0 1 34.2 471.4V481.6H29.2V471.6A3 3 0 0 0 23.2 471.6V481.6ZM18.2 477.4H23.2M29.2 477.4H34.2" stroke-width="1.2"/>
<!-- pencil + lock -->
<path d="M15 516.2L16.2 511.6L26.6 502.8Q28 501.6 29.4 503L30.4 504Q31.6 505.4 30.4 506.8L20.6 515.4ZM25 504.4L28.8 508.2" stroke-width="1.2"/>
<rect x="27.6" y="514.6" width="8.4" height="6.6" rx="1.2" stroke-width="1.2"/>
<path d="M29.6 514.4V512.6A2.2 2.2 0 0 1 34 512.2" stroke-width="1.2"/>
<!-- lock open -->
<rect x="18.2" y="547.6" width="16" height="10.6" rx="1.8" stroke-width="1.2"/>
<path d="M21.8 547.4V544.8A4.2 4.2 0 0 1 30.2 544.2" stroke-width="1.2"/>
<path d="M26.2 551.4V554.4" stroke-width="1.6"/>
<!-- eye -->
<path d="M15.4 583.4Q25 570 34.6 583.4Q25 596.8 15.4 583.4Z" stroke-width="1.2"/>
<circle cx="25" cy="583.4" r="3.4" stroke-width="1.2"/>
<path d="M30.2 597.4L32.6 594.4L35 596.2L32.8 598.2ZM34.6 595L37 593" stroke-width="1"/>
<!-- trash -->
<path d="M17.6 632.4H35M21.6 632.2Q21.6 628.8 24 628.8H28.6Q31 628.8 31 632.2M19.4 632.6L21 646.4Q21.2 648 22.8 648H29.8Q31.4 648 31.6 646.4L33.2 632.6" stroke-width="1.2"/>
</g>

<!-- ===== right toolbar ===== -->
<g id="righticons" fill="none" stroke="#15171c" stroke-width="1.12" stroke-linecap="round" stroke-linejoin="round">
<!-- watchlist -->
<path d="M1255.6 55H1275.2V77.6L1265.4 72.6L1255.6 77.6Z"/>
<path d="M1259.4 59.8H1271.4M1259.4 63.6H1271.4M1259.4 67.4H1271.4" stroke-width="1.1"/>
<!-- alarm -->
<circle cx="1264.8" cy="111.6" r="10.8"/>
<path d="M1266 105.4V112.6H1260.6"/>
<path d="M1253 104L1258 99.6M1271.6 99.6L1276.6 104"/>
<!-- layers -->
<path d="M1265 148.4L1276.6 154.8L1265 161.2L1253.4 154.8Z"/>
<path d="M1253.6 160.2L1265 166.6L1276.4 160.2"/>
<!-- chat -->
<path d="M1256 193.4H1269.6Q1272.4 193.4 1272.4 196.2V205.6Q1272.4 208.4 1269.6 208.4H1258.6L1253.4 212.2V196.2Q1253.4 193.4 1256 193.4Z"/>
<path d="M1272.6 199.6H1274.8Q1277.2 199.6 1277.2 202V217L1272.6 213.4H1264.4Q1262.2 213.4 1262 211.6V208.6"/>
<!-- radar -->
<circle cx="1265" cy="512.8" r="13"/>
<circle cx="1265" cy="512.8" r="7.4"/>
<circle cx="1265" cy="512.8" r="2" fill="#131722"/>
<path d="M1266.4 511.4L1272.4 505.4" stroke-width="1.4"/>
<!-- calendar -->
<rect x="1253.8" y="549.8" width="23" height="20" rx="3.2"/>
<path d="M1254 556.6H1276.6"/>
<rect x="1258" y="546.6" width="3.2" height="5.2" rx="1.2" fill="#fff"/><rect x="1269.4" y="546.6" width="3.2" height="5.2" rx="1.2" fill="#fff"/>
<!-- apps dark -->
<circle cx="1265" cy="604.8" r="16.2" fill="#2b2d33" stroke="none"/>
<g fill="#fff" stroke="none">
<rect x="1256.6" y="596.4" width="4.2" height="4.2" rx="1"/><rect x="1262.9" y="596.4" width="4.2" height="4.2" rx="1"/><rect x="1269.2" y="596.4" width="4.2" height="4.2" rx="1"/>
<rect x="1256.6" y="602.7" width="4.2" height="4.2" rx="1"/><rect x="1262.9" y="602.7" width="4.2" height="4.2" rx="1"/><rect x="1269.2" y="602.7" width="4.2" height="4.2" rx="1"/>
<rect x="1256.6" y="609" width="4.2" height="4.2" rx="1"/><rect x="1262.9" y="609" width="4.2" height="4.2" rx="1"/><rect x="1269.2" y="609" width="4.2" height="4.2" rx="1"/>
</g>
<!-- feed -->
<circle cx="1256" cy="670.2" r="1.6"/>
<path d="M1256 662.8A7.4 7.4 0 0 1 1263.4 670.6M1256 656.6A13.6 13.6 0 0 1 1269.6 670.6M1256 650.4A19.8 19.8 0 0 1 1275.8 670.6"/>
<circle cx="1274.6" cy="650.7" r="8.6" fill="#fff" stroke="none"/>
<circle cx="1274.6" cy="650.7" r="7.7" fill="#ee3a4c" stroke="none"/>
<!-- help -->
<path d="M1270.8 696.6A13 13 0 0 0 1253 713.6M1259.4 719.8A13 13 0 0 0 1277.4 703.6"/>
<path d="M1261.4 704.6Q1261.4 700.8 1265.2 700.8Q1269 700.8 1269 704.4Q1269 706.6 1266.6 708Q1265.2 709 1265.2 711"/>
<circle cx="1265.2" cy="714.4" r="1.1"/>
<path d="M1276 694L1277.2 697.2L1280.4 698.4L1277.2 699.6L1276 702.8L1274.8 699.6L1271.6 698.4L1274.8 697.2Z" stroke-width="1"/>
<path d="M1254 713.6L1255 716.2L1257.6 717.2L1255 718.2L1254 720.8L1253 718.2L1250.4 717.2L1253 716.2Z" stroke-width="1"/>
</g>

<!-- ===== chart widgets ===== -->
<g id="widgets" fill="none" stroke="#131722" stroke-width="1.2" stroke-linecap="round" stroke-linejoin="round">
<!-- legend pill -->
<path d="M72.5 50H84V67H72.5A8.5 8.5 0 0 1 72.5 50Z" fill="#d5efea" stroke="none"/>
<path d="M84 50H95A8.5 8.5 0 0 1 95 67H84Z" fill="#fbd5e2" stroke="none"/>
<circle cx="74.6" cy="58.4" r="4.2" fill="#17977b" stroke="none"/>
<!-- collapse button -->
<rect x="64.5" y="145.5" width="27.5" height="20" rx="3" fill="#fff" fill-opacity="0.88" stroke="#dcdfe6" stroke-width="1"/>
<path d="M74.4 158.2L78.4 154.2L82.4 158.2" stroke-width="1.3"/>
<!-- TV logo -->
<g fill="#131313" stroke="#fff" stroke-width="2.6" paint-order="stroke" stroke-linejoin="round">
<path d="M67.8 593.6H80.4V609H74.2V599.8H67.8Z"/>
<circle cx="85.2" cy="596.8" r="3.2"/>
<path d="M90.6 593.6H98L91.2 609H83.8Z"/>
</g>
<!-- price labels -->
<rect x="1123" y="295" width="49" height="17" rx="2" fill="#16987c" stroke="none"/>
<path d="M1173 295H1231Q1233 295 1233 297V324Q1233 326 1231 326H1173Z" fill="#16987c" stroke="none"/>
<path d="M1173 326H1227Q1229 326 1229 328V341Q1229 343 1227 343H1173Z" fill="#2a5fe6" stroke="none"/>
<path d="M1173 343H1227Q1229 343 1229 345V358Q1229 360 1227 360H1173Z" fill="#ee3a4c" stroke="none"/>
<path d="M1173 360H1227Q1229 360 1229 362V374.5Q1229 376.5 1227 376.5H1173Z" fill="#2a5fe6" stroke="none"/>
<path d="M1173 582.6H1228.6Q1230.6 582.6 1230.6 584.6V596.8Q1230.6 598.8 1228.6 598.8H1173Z" fill="#2aa597" stroke="none"/>
<!-- axis settings hex -->
<path d="M1198.2 637.3L1201.4 631.6Q1201.8 631 1202.6 631H1208.2Q1209 631 1209.4 631.6L1212.6 637.3L1209.4 643Q1209 643.6 1208.2 643.6H1202.6Q1201.8 643.6 1201.4 643Z" stroke-width="1.1"/>
<circle cx="1205.4" cy="637.3" r="2.2" stroke-width="1.1"/>
<!-- goto date -->
<path d="M347.4 669.4V665.6Q347.4 663.4 349.6 663.4H361.8Q364 663.4 364 665.6V677Q364 679.2 361.8 679.2H356.4M347.6 667.6H363.8M351.6 661.4V665M359.8 661.4V665" stroke-width="1.2"/>
<path d="M346.6 675.2H354M351 672.2L354 675.2L351 678.2" stroke-width="1.2"/>
<!-- bottom panel icons -->
<path d="M1175.4 715.4L1183.8 708.6L1192.2 715.4" stroke-width="1.3"/>
<path d="M1211.4 710.6V708.4Q1211.4 705.8 1214 705.8H1224Q1226.6 705.8 1226.6 708.4V710.6M1226.6 715.6V717.8Q1226.6 720.4 1224 720.4H1214Q1211.4 720.4 1211.4 717.8V715.6" stroke-width="1.3"/>
<!-- mouse cursor at bottom -->
<path d="M1088.4 726.2V733L1093 733Z" fill="#fff" stroke="#222" stroke-width="1"/>
<!-- event icons -->
<g stroke-width="1.3">
<circle cx="985.4" cy="609.7" r="10.3" fill="#fff" stroke="#8a3fa8"/>
<circle cx="1004.6" cy="609.7" r="10.3" fill="#fde9eb" stroke="#e04a58"/>
<circle cx="999.4" cy="609.7" r="10.3" fill="#fdeef0" stroke="#e04a58"/>
<circle cx="989.8" cy="609.7" r="10.3" fill="#fdeef0" stroke="#d8434f"/>
<circle cx="989.8" cy="609.7" r="3.8" fill="#ea4a5c" stroke="none"/>
<circle cx="999" cy="584.6" r="10.4" fill="#fff" stroke="#d8434f"/>
</g>
<g stroke="none">
<rect x="992.4" y="577.8" width="8" height="8" fill="#4b7fe0"/>
<g fill="#fff"><rect x="993.6" y="579" width="1" height="1"/><rect x="996" y="579" width="1" height="1"/><rect x="998.4" y="579" width="1" height="1"/><rect x="993.6" y="581.4" width="1" height="1"/><rect x="996" y="581.4" width="1" height="1"/><rect x="998.4" y="581.4" width="1" height="1"/><rect x="993.6" y="583.8" width="1" height="1"/><rect x="996" y="583.8" width="1" height="1"/><rect x="998.4" y="583.8" width="1" height="1"/></g>
<rect x="1000.4" y="579" width="5" height="1.8" fill="#e65a66"/>
<rect x="1000.4" y="583" width="6.2" height="1.9" fill="#e65a66"/>
<path d="M993.2 588.6H1004.8L1003.4 591.2H994.6Z" fill="#e65a66"/>
</g>
</g>

<!-- window corner artifacts -->
<g stroke="none">
<path d="M1287 724.5A7.5 7.5 0 0 1 1279.5 732H1287Z" fill="#f3c4e4"/>
<path d="M1287 726.5A5.5 5.5 0 0 1 1281.5 732H1287Z" fill="#3a0c2c"/>
<path d="M0 724.5A7.5 7.5 0 0 0 7.5 732H0Z" fill="#f3c4e4"/>
<path d="M0 726.5A5.5 5.5 0 0 0 5.5 732H0Z" fill="#3a0c2c"/>
</g>

<g id="labels">
<text id="t0" x="26" y="24.8" font-size="17.5" fill="#fff" stroke="#fff" stroke-width="0.45" stroke-linejoin="round" text-anchor="middle">T</text>
<text id="t1" x="40.8" y="13.7" font-size="11" fill="#fff" stroke="#fff" stroke-width="0.8" stroke-linejoin="round" text-anchor="middle">11</text>
<text id="t2" x="83.7" y="23.5" font-size="14" fill="#131722" font-weight="bold" textLength="51.2" lengthAdjust="spacingAndGlyphs">USDJPY</text>
<text id="t3" x="213.1" y="23.6" font-size="14" fill="#131722" stroke="#131722" stroke-width="0.22" textLength="9.6" lengthAdjust="spacingAndGlyphs">D</text>
<text id="t4" x="328.9" y="24" font-size="14" fill="#131722" stroke="#131722" stroke-width="0.22" textLength="62.4" lengthAdjust="spacingAndGlyphs">Indicators</text>
<text id="t5" x="508.7" y="24" font-size="14" fill="#131722" stroke="#131722" stroke-width="0.22" textLength="31.4" lengthAdjust="spacingAndGlyphs">Alert</text>
<text id="t6" x="587.1" y="24" font-size="14" fill="#131722" stroke="#131722" stroke-width="0.22" textLength="41.2" lengthAdjust="spacingAndGlyphs">Replay</text>
<text id="t7" x="959.6" y="18.7" font-size="14" fill="#131722" stroke="#131722" stroke-width="0.22" textLength="58.7" lengthAdjust="spacingAndGlyphs">Unnamed</text>
<text id="t8" x="978.75" y="29.5" font-size="11" fill="#2f62d6" stroke="#2f62d6" stroke-width="0.22" textLength="20.8" lengthAdjust="spacingAndGlyphs">Save</text>
<text id="t9" x="1225.1" y="23.7" font-size="14" fill="#fff" stroke="#fff" stroke-width="0.45" stroke-linejoin="round" textLength="45.6" lengthAdjust="spacingAndGlyphs">Publish</text>
<text id="t10" x="111.65" y="62.6" font-size="13" fill="#131722" stroke="#131722" stroke-width="0.22" textLength="56.1" lengthAdjust="spacingAndGlyphs">O150.469</text>
<text id="t11" x="172.85" y="62.6" font-size="13" fill="#131722" stroke="#131722" stroke-width="0.22" textLength="56.8" lengthAdjust="spacingAndGlyphs">H151.204</text>
<text id="t12" x="234.35" y="62.6" font-size="13" fill="#131722" stroke="#131722" stroke-width="0.22" textLength="54.3" lengthAdjust="spacingAndGlyphs">L150.274</text>
<text id="t13" x="293.35" y="62.6" font-size="13" fill="#131722" stroke="#131722" stroke-width="0.22" textLength="54.8" lengthAdjust="spacingAndGlyphs">C150.794</text>
<text id="t14" x="353.85" y="62.6" font-size="13" fill="#131722" stroke="#131722" stroke-width="0.22" textLength="39.3" lengthAdjust="spacingAndGlyphs">+0.144</text>
<text id="t15" x="397.85" y="62.6" font-size="13" fill="#131722" stroke="#131722" stroke-width="0.22" textLength="48.3" lengthAdjust="spacingAndGlyphs">(+0.10%)</text>
<text id="t16" x="64.75" y="86.5" font-size="13" fill="#131722" stroke="#131722" stroke-width="0.22" textLength="24.4" lengthAdjust="spacingAndGlyphs">EMA</text>
<text id="t17" x="97.25" y="86.5" font-size="13" fill="#3a68c8" stroke="#3a68c8" stroke-width="0.22" textLength="45.4" lengthAdjust="spacingAndGlyphs">148.242</text>
<text id="t18" x="64.75" y="110.4" font-size="13" fill="#131722" stroke="#131722" stroke-width="0.22" textLength="24.4" lengthAdjust="spacingAndGlyphs">EMA</text>
<text id="t19" x="97.25" y="110.4" font-size="13" fill="#d8404f" stroke="#d8404f" stroke-width="0.22" textLength="45.4" lengthAdjust="spacingAndGlyphs">148.943</text>
<text id="t20" x="64.55" y="134.4" font-size="13" fill="#131722" stroke="#131722" stroke-width="0.22" textLength="59.6" lengthAdjust="spacingAndGlyphs">Vol · Ticks</text>
<text id="t21" x="131.95" y="134.4" font-size="13" fill="#2e9e8f" stroke="#2e9e8f" stroke-width="0.22" textLength="49.1" lengthAdjust="spacingAndGlyphs">237.09 K</text>
<text id="t22" x="1181.1" y="76.6" font-size="12" fill="#131722" stroke="#131722" stroke-width="0.22" textLength="42.5" lengthAdjust="spacingAndGlyphs">160.000</text>
<text id="t23" x="1181.1" y="126.6" font-size="12" fill="#131722" stroke="#131722" stroke-width="0.22" textLength="42.5" lengthAdjust="spacingAndGlyphs">158.000</text>
<text id="t24" x="1181.1" y="176.6" font-size="12" fill="#131722" stroke="#131722" stroke-width="0.22" textLength="42.5" lengthAdjust="spacingAndGlyphs">156.000</text>
<text id="t25" x="1181.1" y="226.6" font-size="12" fill="#131722" stroke="#131722" stroke-width="0.22" textLength="42.5" lengthAdjust="spacingAndGlyphs">154.000</text>
<text id="t26" x="1181.1" y="276.6" font-size="12" fill="#131722" stroke="#131722" stroke-width="0.22" textLength="42.5" lengthAdjust="spacingAndGlyphs">152.000</text>
<text id="t27" x="1181.1" y="426.6" font-size="12" fill="#131722" stroke="#131722" stroke-width="0.22" textLength="42.5" lengthAdjust="spacingAndGlyphs">146.000</text>
<text id="t28" x="1181.1" y="476.6" font-size="12" fill="#131722" stroke="#131722" stroke-width="0.22" textLength="42.5" lengthAdjust="spacingAndGlyphs">144.000</text>
<text id="t29" x="1181.1" y="526.6" font-size="12" fill="#131722" stroke="#131722" stroke-width="0.22" textLength="42.5" lengthAdjust="spacingAndGlyphs">142.000</text>
<text id="t30" x="1181.1" y="576.6" font-size="12" fill="#131722" stroke="#131722" stroke-width="0.22" textLength="42.5" lengthAdjust="spacingAndGlyphs">140.000</text>
<text id="t31" x="1127.2" y="307.6" font-size="12" fill="#fff" stroke="#fff" stroke-width="0.45" stroke-linejoin="round" textLength="41.4" lengthAdjust="spacingAndGlyphs">USDJPY</text>
<text id="t32" x="1181.1" y="307.6" font-size="12" fill="#fff" stroke="#fff" stroke-width="0.45" stroke-linejoin="round" textLength="42.5" lengthAdjust="spacingAndGlyphs">150.794</text>
<text id="t33" x="1180.4" y="321.6" font-size="12" fill="#c9efe6" stroke="#c9efe6" stroke-width="0.22" textLength="47.7" lengthAdjust="spacingAndGlyphs">02:35:34</text>
<text id="t34" x="1181.1" y="338.6" font-size="12" fill="#fff" stroke="#fff" stroke-width="0.45" stroke-linejoin="round" textLength="42.5" lengthAdjust="spacingAndGlyphs">150.000</text>
<text id="t35" x="1181.1" y="355.4" font-size="12" fill="#fff" stroke="#fff" stroke-width="0.45" stroke-linejoin="round" textLength="42.5" lengthAdjust="spacingAndGlyphs">148.943</text>
<text id="t36" x="1181.1" y="372.4" font-size="12" fill="#fff" stroke="#fff" stroke-width="0.45" stroke-linejoin="round" textLength="42.5" lengthAdjust="spacingAndGlyphs">148.242</text>
<text id="t37" x="1181.1" y="595" font-size="12" fill="#fff" stroke="#fff" stroke-width="0.45" stroke-linejoin="round" textLength="45.5" lengthAdjust="spacingAndGlyphs">237.09 K</text>
<text id="t38" x="133" y="640.8" font-size="12" fill="#131722" stroke="#131722" stroke-width="0.45" stroke-linejoin="round" text-anchor="middle">Feb</text>
<text id="t39" x="225" y="640.8" font-size="12" fill="#131722" stroke="#131722" stroke-width="0.45" stroke-linejoin="round" text-anchor="middle">Mar</text>
<text id="t40" x="322" y="640.8" font-size="12" fill="#131722" stroke="#131722" stroke-width="0.45" stroke-linejoin="round" text-anchor="middle">Apr</text>
<text id="t41" x="424" y="640.8" font-size="12" fill="#131722" stroke="#131722" stroke-width="0.45" stroke-linejoin="round" text-anchor="middle">May</text>
<text id="t42" x="524" y="640.8" font-size="12" fill="#131722" stroke="#131722" stroke-width="0.45" stroke-linejoin="round" text-anchor="middle">Jun</text>
<text id="t43" x="622" y="640.8" font-size="12" fill="#131722" stroke="#131722" stroke-width="0.45" stroke-linejoin="round" text-anchor="middle">Jul</text>
<text id="t44" x="727" y="640.8" font-size="12" fill="#131722" stroke="#131722" stroke-width="0.45" stroke-linejoin="round" text-anchor="middle">Aug</text>
<text id="t45" x="823" y="640.8" font-size="12" fill="#131722" stroke="#131722" stroke-width="0.45" stroke-linejoin="round" text-anchor="middle">Sep</text>
<text id="t46" x="925" y="640.8" font-size="12" fill="#131722" stroke="#131722" stroke-width="0.45" stroke-linejoin="round" text-anchor="middle">Oct</text>
<text id="t47" x="1031" y="640.8" font-size="12" fill="#131722" stroke="#131722" stroke-width="0.45" stroke-linejoin="round" text-anchor="middle">Nov</text>
<text id="t48" x="1123" y="640.8" font-size="12" fill="#131722" stroke="#131722" stroke-width="0.45" stroke-linejoin="round" text-anchor="middle">Dec</text>
<text id="t49" x="70.2" y="676" font-size="14" fill="#131722" stroke="#131722" stroke-width="0.22" textLength="16.0" lengthAdjust="spacingAndGlyphs">1D</text>
<text id="t50" x="97.9" y="676" font-size="14" fill="#131722" stroke="#131722" stroke-width="0.22" textLength="16.8" lengthAdjust="spacingAndGlyphs">5D</text>
<text id="t51" x="126.2" y="676" font-size="14" fill="#131722" stroke="#131722" stroke-width="0.22" textLength="18.1" lengthAdjust="spacingAndGlyphs">1M</text>
<text id="t52" x="154.8" y="676" font-size="14" fill="#131722" stroke="#131722" stroke-width="0.22" textLength="18.5" lengthAdjust="spacingAndGlyphs">3M</text>
<text id="t53" x="183.7" y="676" font-size="14" fill="#131722" stroke="#131722" stroke-width="0.22" textLength="18.7" lengthAdjust="spacingAndGlyphs">6M</text>
<text id="t54" x="213.2" y="676" font-size="14" fill="#131722" stroke="#131722" stroke-width="0.22" textLength="25.5" lengthAdjust="spacingAndGlyphs">YTD</text>
<text id="t55" x="250.3" y="676" font-size="14" fill="#131722" stroke="#131722" stroke-width="0.22" textLength="15.9" lengthAdjust="spacingAndGlyphs">1Y</text>
<text id="t56" x="277.3" y="676" font-size="14" fill="#131722" stroke="#131722" stroke-width="0.22" textLength="16.9" lengthAdjust="spacingAndGlyphs">5Y</text>
<text id="t57" x="303.9" y="676" font-size="14" fill="#131722" stroke="#131722" stroke-width="0.22" textLength="18.3" lengthAdjust="spacingAndGlyphs">All</text>
<text id="t58" x="1143.9" y="676" font-size="14" fill="#131722" stroke="#131722" stroke-width="0.22" textLength="83.9" lengthAdjust="spacingAndGlyphs">18:24:25 UTC</text>
<text id="t59" x="71.4" y="717.7" font-size="14" fill="#131722" stroke="#131722" stroke-width="0.22" textLength="69.1" lengthAdjust="spacingAndGlyphs">Pine Editor</text>
<text id="t60" x="172.7" y="717.7" font-size="14" fill="#131722" stroke="#131722" stroke-width="0.22" textLength="84.2" lengthAdjust="spacingAndGlyphs">Trading Panel</text>
<text id="t61" x="104.65" y="609" font-size="21" fill="#131313" font-weight="bold" stroke="#fff" stroke-width="2.6" stroke-linejoin="round" paint-order="stroke" textLength="122.7" lengthAdjust="spacingAndGlyphs">TradingView</text>
<text id="t62" x="1274.5" y="654.6" font-size="11" fill="#fff" stroke="#fff" stroke-width="0.8" stroke-linejoin="round" text-anchor="middle">1</text>
<text id="t63" x="93.3" y="63.2" font-size="15" fill="#e0357f" font-weight="bold" text-anchor="middle">≈</text>
</g>
</svg>
</body></html>
